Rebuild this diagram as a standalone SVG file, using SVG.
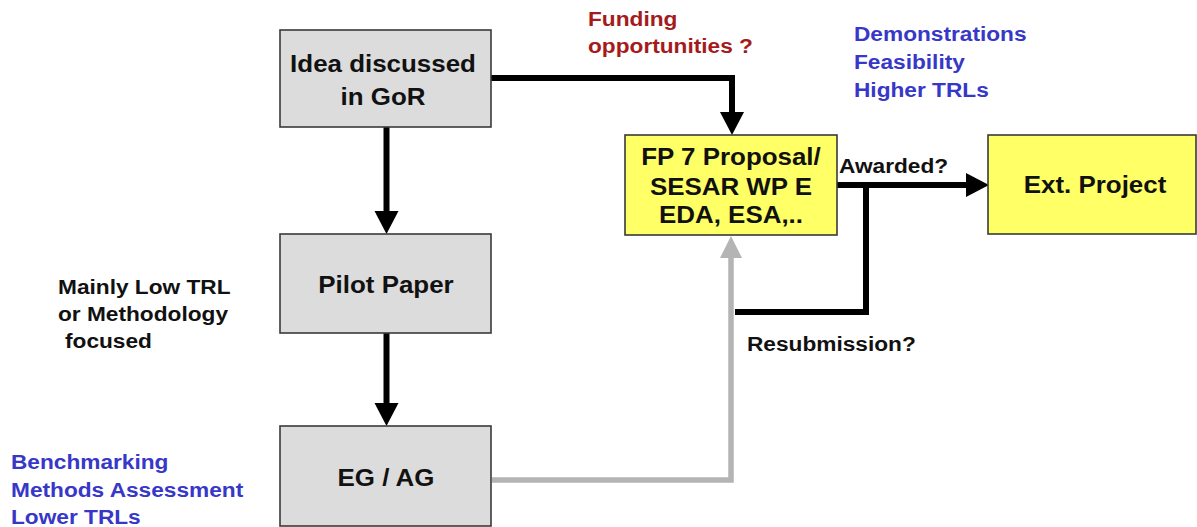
<svg xmlns="http://www.w3.org/2000/svg" width="1197" height="527" viewBox="0 0 1197 527">
<style>
text { font-family: "Liberation Sans", Arial, sans-serif; font-weight: bold; }
.box { fill: #dcdcdc; stroke: #3a3a3a; stroke-width: 1.6; }
.ybox { fill: #ffff66; stroke: #3a3a3a; stroke-width: 1.6; }
.bt { font-size: 24px; fill: #111; text-anchor: middle; }
.lb { font-size: 21px; }
.red { fill: #a51b1b; }
.blue { fill: #3737c8; }
.blk { fill: #111; }
.conn { fill: none; stroke: #000; stroke-width: 6; stroke-linejoin: miter; }
.gconn { fill: none; stroke: #b4b4b4; stroke-width: 5.5; stroke-linejoin: miter; }
</style>
<defs>
<marker id="ah" markerUnits="userSpaceOnUse" markerWidth="24" markerHeight="26" refX="0" refY="12" orient="auto" overflow="visible">
<path d="M0,0 L23,12 L0,24 Z" fill="#000"/>
</marker>
<marker id="ahg" markerUnits="userSpaceOnUse" markerWidth="24" markerHeight="26" refX="0" refY="11" orient="auto" overflow="visible">
<path d="M0,0 L22,11 L0,22 Z" fill="#b4b4b4"/>
</marker>
</defs>

<g id="connectors">
<path class="conn" d="M491,78 H732 V112" marker-end="url(#ah)"/>
<path class="conn" d="M386.5,127 V211" marker-end="url(#ah)"/>
<path class="conn" d="M386.5,333 V403" marker-end="url(#ah)"/>
<path class="conn" d="M837,185 H966" marker-end="url(#ah)"/>
<path class="conn" d="M866,185 V312 H735"/>
<path class="gconn" d="M492,480 H731 V258" marker-end="url(#ahg)"/>
</g>

<g id="node-idea">
<rect class="box" x="280" y="30" width="211" height="97"/>
<text class="bt" transform="translate(383,71.5) scale(1.08,1)">Idea discussed</text>
<text class="bt" transform="translate(383,105) scale(1.08,1)">in GoR</text>
</g>

<g id="node-pilot">
<rect class="box" x="280" y="234" width="211" height="99"/>
<text class="bt" transform="translate(386,293) scale(1.08,1)">Pilot Paper</text>
</g>

<g id="node-egag">
<rect class="box" x="280" y="426" width="211" height="100"/>
<text class="bt" transform="translate(386,486) scale(1.08,1)">EG / AG</text>
</g>

<g id="node-fp7">
<rect class="ybox" x="625" y="135" width="212" height="100"/>
<text class="bt" transform="translate(731,165) scale(1.08,1)">FP 7 Proposal/</text>
<text class="bt" transform="translate(731,195) scale(1.08,1)">SESAR WP E</text>
<text class="bt" transform="translate(731,223) scale(1.08,1)">EDA, ESA,..</text>
</g>

<g id="node-ext">
<rect class="ybox" x="988" y="135" width="208" height="99"/>
<text class="bt" transform="translate(1095,193) scale(1.08,1)">Ext. Project</text>
</g>

<g id="labels">
<text class="lb red" transform="translate(588,26) scale(1.08,1)">Funding</text>
<text class="lb red" transform="translate(588,53) scale(1.08,1)">opportunities ?</text>
<text class="lb blue" transform="translate(854,41) scale(1.08,1)">Demonstrations</text>
<text class="lb blue" transform="translate(854,69) scale(1.08,1)">Feasibility</text>
<text class="lb blue" transform="translate(854,97) scale(1.08,1)">Higher TRLs</text>
<text class="lb blk" transform="translate(839,173) scale(1.08,1)">Awarded?</text>
<text class="lb blk" transform="translate(747,351) scale(1.08,1)">Resubmission?</text>
<text class="lb blk" transform="translate(58,294) scale(1.08,1)">Mainly Low TRL</text>
<text class="lb blk" transform="translate(58,321) scale(1.08,1)">or Methodology</text>
<text class="lb blk" transform="translate(65,348) scale(1.08,1)">focused</text>
<text class="lb blue" transform="translate(11,469) scale(1.08,1)">Benchmarking</text>
<text class="lb blue" transform="translate(11,497) scale(1.08,1)">Methods Assessment</text>
<text class="lb blue" transform="translate(11,524) scale(1.08,1)">Lower TRLs</text>
</g>
</svg>
